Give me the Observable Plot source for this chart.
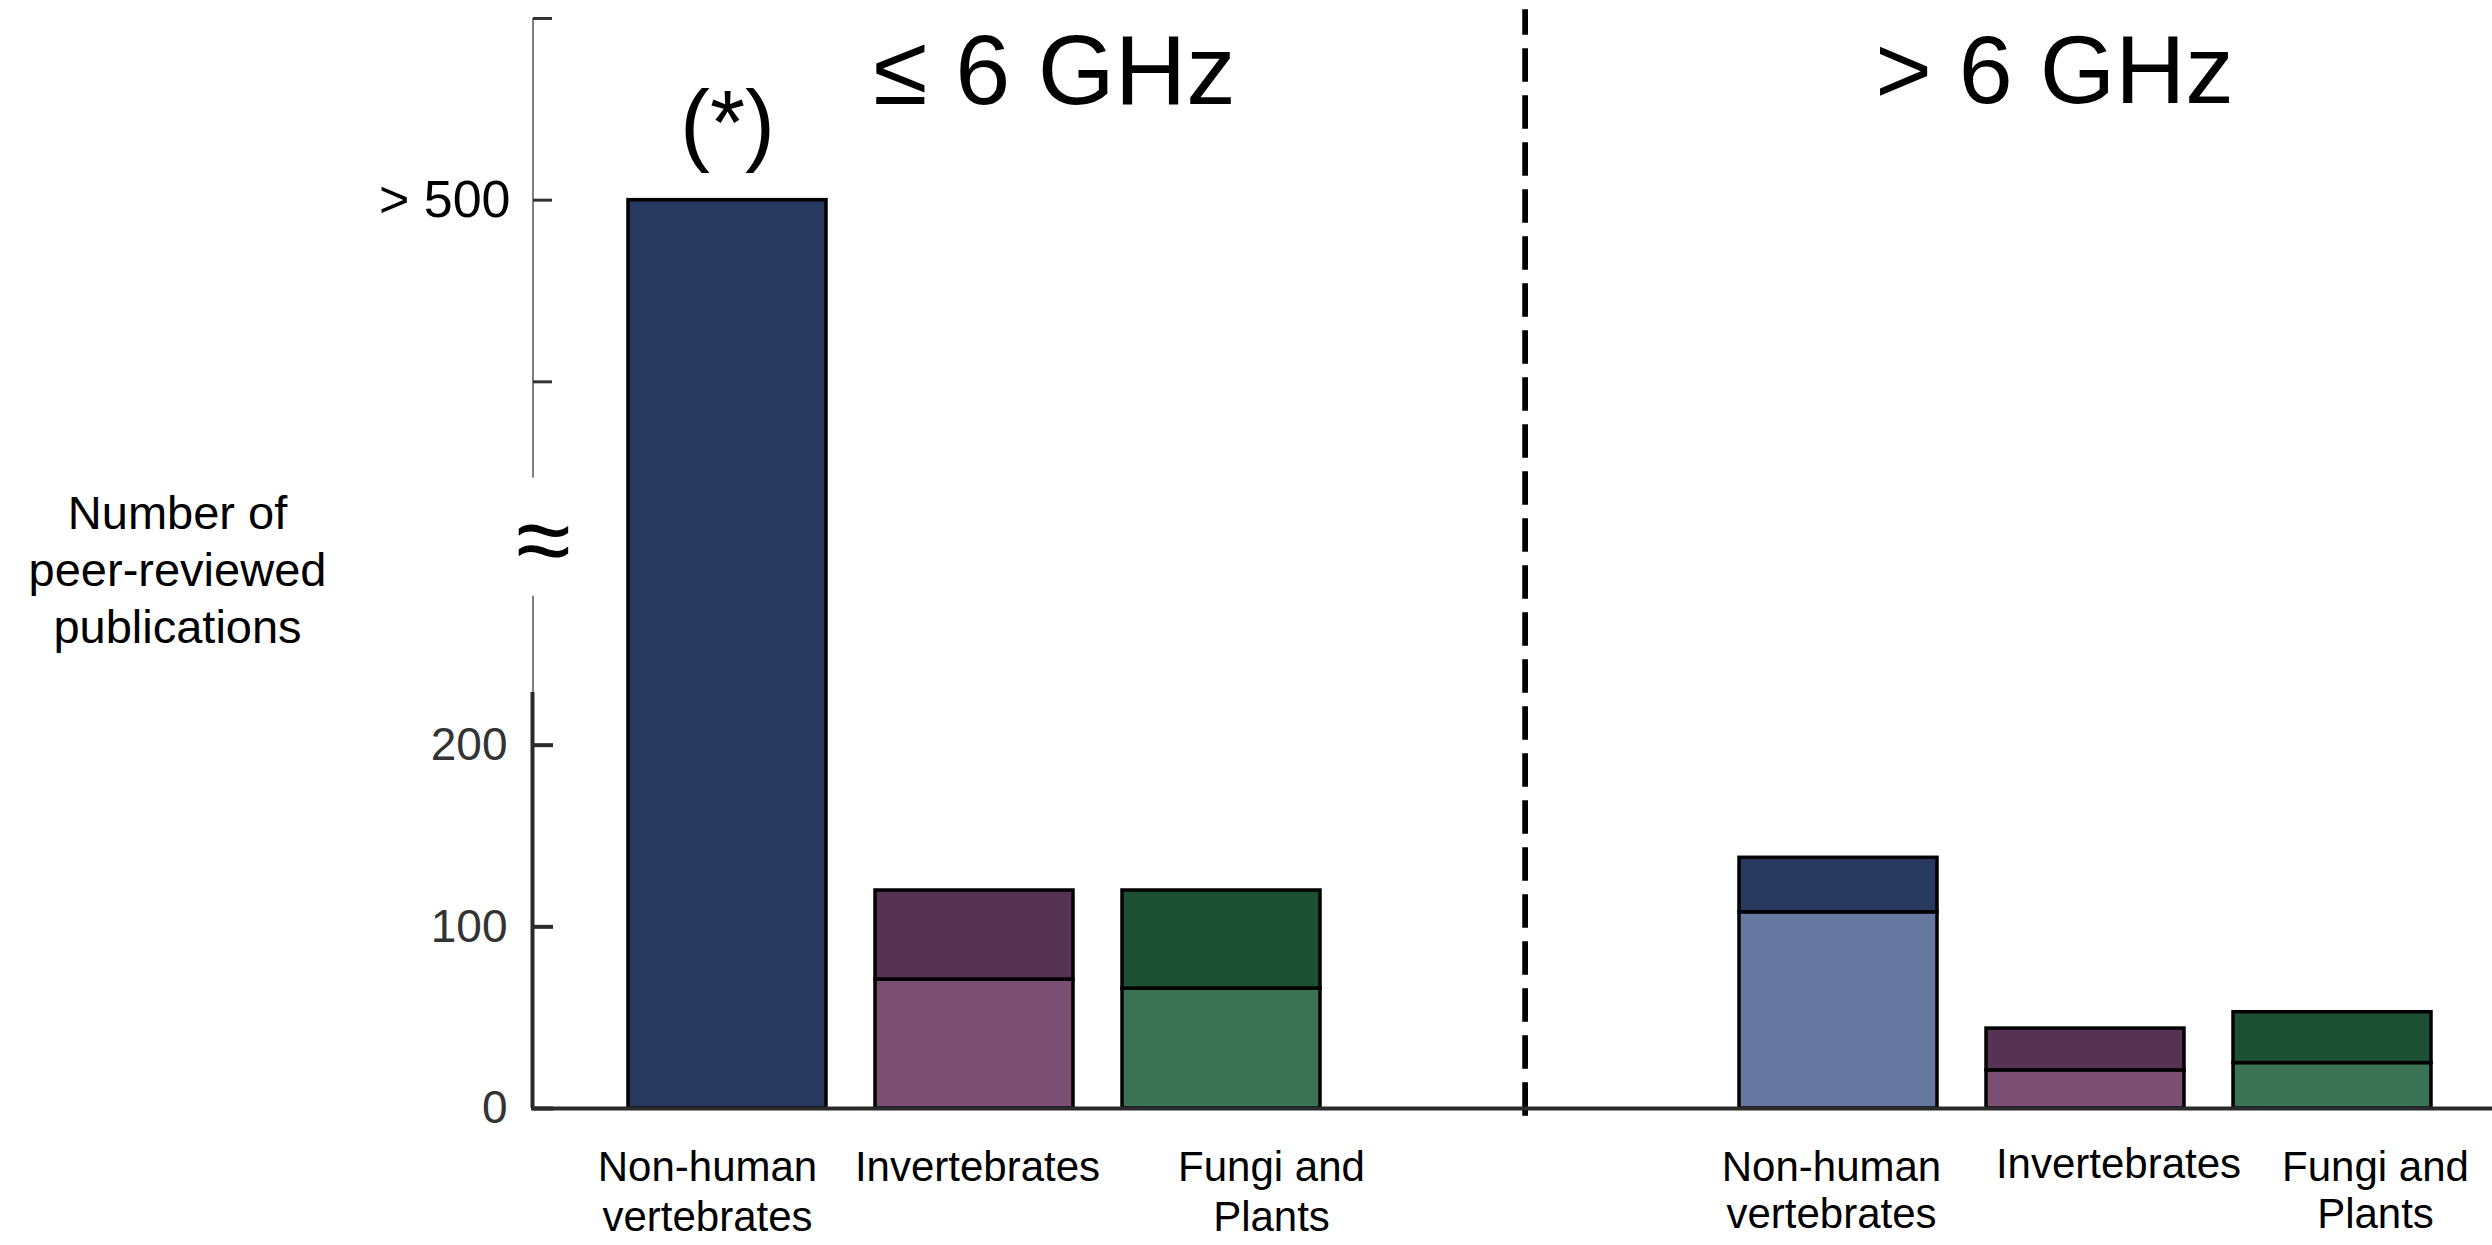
<!DOCTYPE html>
<html>
<head>
<meta charset="utf-8">
<script src="https://cdn.jsdelivr.net/npm/d3@7"></script>
<script src="https://cdn.jsdelivr.net/npm/@observablehq/plot@0.6"></script>
<style>
  html, body { margin: 0; padding: 0; background: #fff; }
  #chart { display: flex; flex-direction: row; width: 2492px; height: 1245px; overflow: hidden; }
  #chart svg { display: block; flex: none; }
</style>
</head>
<body>
<div id="chart"></div>
<script>
// ---------------- data ----------------
const categories = ["Non-human\nvertebrates", "Invertebrates", "Fungi and\nPlants"];
const bands = ["\u2264 6 GHz", "> 6 GHz"];
// lighter (bottom) and darker (top) segment of each bar
const lowerLE6 = [0, 71, 66];
const upperLE6 = [500, 49, 54];   // non-human vertebrates: > 500
const lowerGT6 = [108, 21, 25];
const upperGT6 = [30, 23, 28];
const yTicksLow = [0, 100, 200];
const yTicksHigh = [400, 500, 600];
const yTickLabelsHigh = ["", "> 500", ""];
const yDomain = [0, 600];
const axisSolid = [[0, 229]];               // dark lower part of the y axis
const axisThin = [[229, 282], [347, 600]];  // thin upper parts around the break
const breakAt = [312];
const notes = [{category: categories[0], value: lowerLE6[0] + upperLE6[0], note: "(*)"}];
const yLabel = ["Number of\npeer-reviewed\npublications"];

// ---------------- styles / layout ----------------
const colors = {
  lower: ["#6678a0", "#7a4f72", "#3b7356"],
  upper: ["#27395f", "#573353", "#1c4f34"]
};
const FONT = '"Liberation Sans", Arial, Helvetica, sans-serif';
const H = 1245, MT = 18, MB = 137;
const LW = 1528, LML = 533, LMR = 3;
const RW = 964;
const frameW = LW - LML - LMR;
const nudgeLeft = [[-20, 36], [3, 36], [50, 36]];
const nudgeRight = [[-7, 38], [33, 35], [43, 38]];

function table(lower, upper) {
  return categories.flatMap((c, i) => [
    {category: c, segment: "lower", value: lower[i], color: colors.lower[i]},
    {category: c, segment: "upper", value: upper[i], color: colors.upper[i]}
  ]).filter(d => d.value > 0);
}

function bars(data) {
  return Plot.barY(data, {
    x: "category", y: "value", z: "segment", fill: "color",
    stroke: "black", strokeWidth: 3.5
  });
}

function xLabels(nudges, lineHeight) {
  return categories.map((c, i) => Plot.axisX([c], {
    anchor: "bottom", tickSize: 0, tickPadding: nudges[i][1], dx: nudges[i][0],
    fontSize: 42, lineHeight, label: null, fill: "black"
  }));
}

const left = Plot.plot({
  width: LW, height: H,
  marginLeft: LML, marginRight: LMR, marginTop: MT, marginBottom: MB,
  style: {fontFamily: FONT, background: "white", overflow: "visible"},
  x: {domain: categories, paddingInner: 0.2, paddingOuter: 0.608, align: 0.316},
  y: {domain: yDomain},
  marks: [
    Plot.frame({anchor: "right", stroke: "black", strokeWidth: 6.5,
      strokeDasharray: "27,20", strokeDashoffset: 8, insetTop: -6, insetBottom: -4}),
    bars(table(lowerLE6, upperLE6)),
    Plot.ruleY([0], {stroke: "#2a2a2a", strokeWidth: 4, insetRight: -3, insetLeft: -2}),
    Plot.rect(axisSolid, {y1: d => d[0], y2: d => d[1], fill: "#2a2a2a",
      insetLeft: -2.5, insetRight: frameW - 1.5}),
    Plot.rect(axisThin, {y1: d => d[0], y2: d => d[1], fill: "#555",
      insetLeft: -0.75, insetRight: frameW - 0.75}),
    Plot.axisY(yTicksLow, {anchor: "left", tickSize: -20, tickPadding: 46,
      fontSize: 46, fill: "#333", stroke: "#2a2a2a", strokeWidth: 4, label: null}),
    Plot.axisY(yTicksHigh, {anchor: "left", tickSize: -19, tickPadding: 42,
      tickFormat: (d) => yTickLabelsHigh[yTicksHigh.indexOf(d)],
      fontSize: 52, fill: "black", stroke: "#333", strokeWidth: 3, label: null}),
    Plot.text(breakAt, {y: d => d, text: () => "\u2248", frameAnchor: "left",
      dx: 10, fontSize: 100, textAnchor: "middle"}),
    Plot.text(yLabel, {text: d => d, frameAnchor: "left", dx: -356, dy: 4,
      fontSize: 47, lineHeight: 1.22, textAnchor: "middle"}),
    Plot.text([bands[0]], {text: d => d, frameAnchor: "top", dx: 25, dy: 15,
      fontSize: 99, lineAnchor: "top"}),
    Plot.text(notes, {x: "category", y: "value", text: "note", dy: -46,
      lineAnchor: "bottom", fontSize: 90}),
    ...xLabels(nudgeLeft, 1.21)
  ]
});

const right = Plot.plot({
  width: RW, height: H,
  marginLeft: 0, marginRight: 0, marginTop: MT, marginBottom: MB,
  style: {fontFamily: FONT, background: "white", overflow: "visible"},
  x: {domain: categories, paddingInner: 0.2, paddingOuter: 0.551, align: 0.775},
  y: {domain: yDomain, axis: null},
  marks: [
    bars(table(lowerGT6, upperGT6)),
    Plot.ruleY([0], {stroke: "#2a2a2a", strokeWidth: 4}),
    Plot.text([bands[1]], {text: d => d, frameAnchor: "top", dx: 44, dy: 16,
      fontSize: 97, lineAnchor: "top"}),
    ...xLabels(nudgeRight, 1.14)
  ]
});

const root = document.getElementById("chart");
root.append(left, right);
</script>
</body>
</html>
